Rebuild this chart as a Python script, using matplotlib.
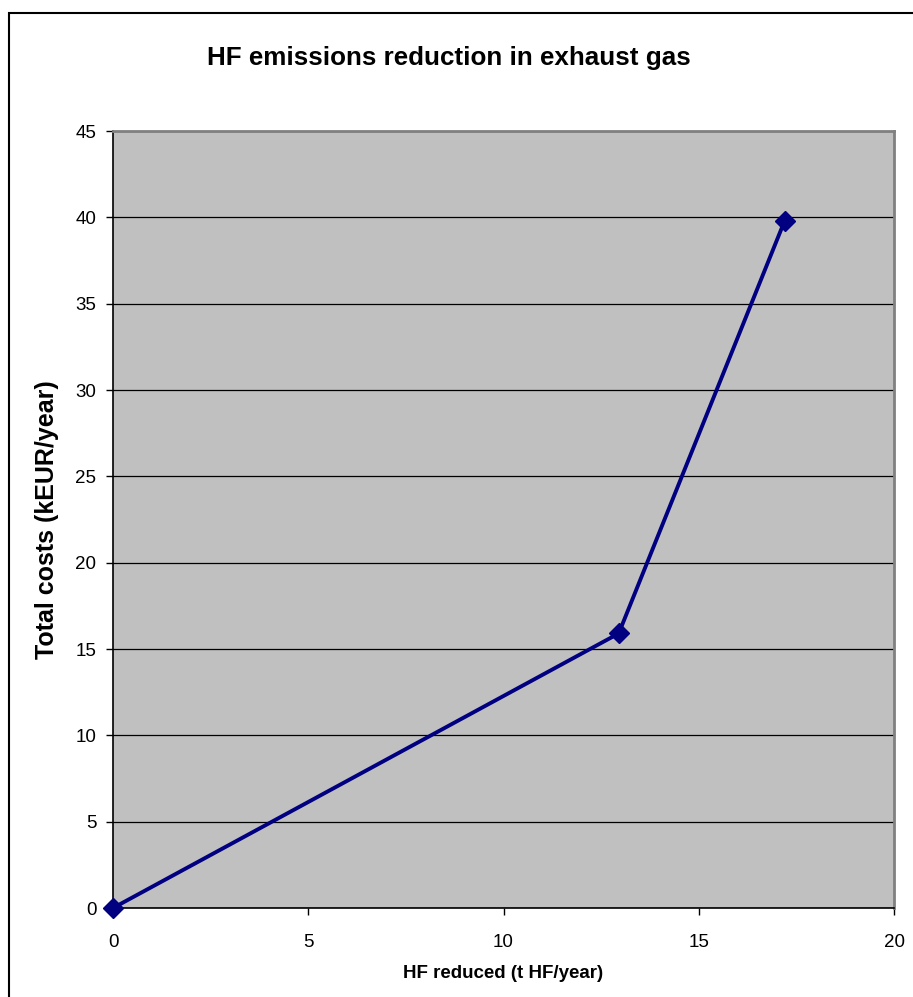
import matplotlib
matplotlib.use("Agg")
import matplotlib.pyplot as plt
from matplotlib.patches import Rectangle

plt.rcParams['font.family'] = ['Liberation Sans', 'DejaVu Sans']

# HF reduced (t HF/year) vs total costs (kEUR/year)
hf_reduced = [0.0, 12.95, 17.2]
total_costs = [0.0, 15.9, 39.8]

x_ticks = [0, 5, 10, 15, 20]
y_ticks = [0, 5, 10, 15, 20, 25, 30, 35, 40, 45]

fig = plt.figure(figsize=(9.13, 9.97), dpi=100)
ax = fig.add_axes([113 / 913, 1 - 908 / 997, (894 - 113) / 913, (908 - 131) / 997])

ax.set_facecolor('#C0C0C0')
ax.plot(hf_reduced, total_costs, color='#000080', lw=2.8, marker='D',
        markersize=10, zorder=3, clip_on=False)

ax.set_xlim(0, 20)
ax.set_ylim(0, 45)
ax.set_xticks(x_ticks)
ax.set_yticks(y_ticks)
ax.yaxis.grid(True, color='black', lw=0.9)
ax.set_axisbelow(True)
ax.tick_params(axis='both', direction='out', length=5, width=1, labelsize=13.5)
ax.tick_params(axis='x', pad=14)
ax.tick_params(axis='y', pad=7)

for side in ['left', 'bottom']:
    ax.spines[side].set_color('black')
    ax.spines[side].set_linewidth(1.2)
for side in ['top', 'right']:
    ax.spines[side].set_color('#808080')
    ax.spines[side].set_linewidth(2)

ax.set_xlabel('HF reduced (t HF/year)', fontsize=13.5, fontweight='bold', labelpad=10)
ax.set_ylabel('Total costs (kEUR/year)', fontsize=18, fontweight='bold', labelpad=12)

fig.text(0.492, 1 - 58 / 997, 'HF emissions reduction in exhaust gas',
         ha='center', va='center', fontsize=18.7, fontweight='bold')

# chart frame
fig.patches.append(Rectangle((9 / 913, -0.1), 1.2, 1 - 13 / 997 + 0.1,
                             transform=fig.transFigure, fill=False,
                             edgecolor='black', lw=1.5, clip_on=False))

fig.savefig('out.png', dpi=100)
